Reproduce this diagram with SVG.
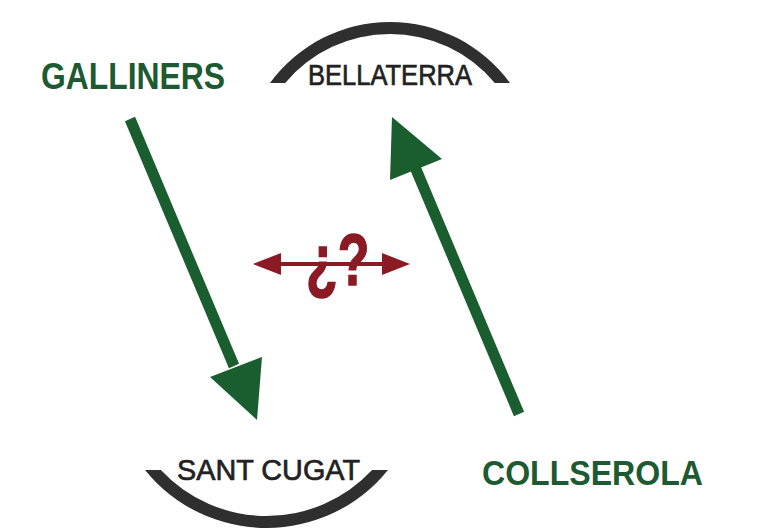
<svg xmlns="http://www.w3.org/2000/svg" width="770" height="529" viewBox="0 0 770 529">
<style>
.place{font-family:"Liberation Sans",Arial,sans-serif;font-weight:bold;fill:#1d5a31}
.city{font-family:"Liberation Sans",Arial,sans-serif;fill:#222;stroke:#222;stroke-width:0.7}
.arc{fill:#2f2f2f}
.shaft{stroke:#1a5e2f;stroke-width:11;fill:none}
.head{fill:#1a5e2f}
.red{fill:#8a1a24}
</style>
<rect width="770" height="529" fill="#ffffff"/>
<g id="galliners"><text class="place" x="41" y="89" font-size="36" textLength="184" lengthAdjust="spacingAndGlyphs">GALLINERS</text></g>
<g id="bellaterra">
<path class="arc" d="M270,83 A148.5,148.5 0 0 1 510,83 L494.8,83 A136.5,136.5 0 0 0 285.2,83 Z"/>
<text class="city" x="308" y="85" font-size="30" textLength="164" lengthAdjust="spacingAndGlyphs">BELLATERRA</text>
</g>
<g id="santcugat">
<path class="arc" d="M145,470 A156.3,156.3 0 0 0 388,470 L372.1,470 A144.3,144.3 0 0 1 160.9,470 Z"/>
<text class="city" x="177" y="480" font-size="30" textLength="183" lengthAdjust="spacingAndGlyphs">SANT CUGAT</text>
</g>
<g id="collserola"><text class="place" x="482" y="485" font-size="35" textLength="221" lengthAdjust="spacingAndGlyphs">COLLSEROLA</text></g>
<g id="connectors">
<line class="shaft" x1="130" y1="119" x2="234" y2="366"/>
<polygon class="head" points="210,377 262,357 257,420"/>
<line class="shaft" x1="519" y1="414" x2="415" y2="167"/>
<polygon class="head" points="390,180 442,159 392,117"/>
<g id="question">
<line x1="270" y1="264" x2="392" y2="264" stroke="#8a1a24" stroke-width="4"/>
<polygon class="red" points="253,264 281,253 281,275"/>
<polygon class="red" points="410,264 382,253 382,275"/>
<text class="red" transform="translate(306,285) scale(0.72,1)" stroke="#8a1a24" stroke-width="1.5" font-family="'Liberation Sans',Arial,sans-serif" font-weight="bold" font-size="72">¿?</text>
</g>
</g>
</svg>
